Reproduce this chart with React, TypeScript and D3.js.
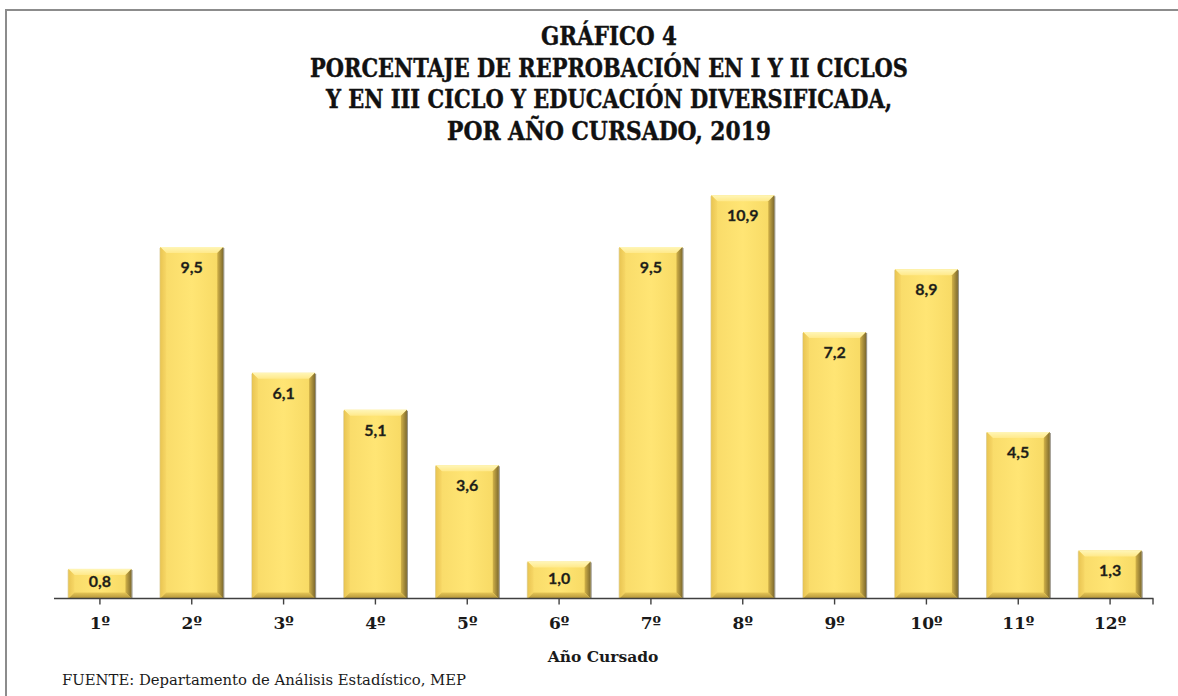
import React from "react";
import * as d3 from "d3";

const categories = ["1º", "2º", "3º", "4º", "5º", "6º", "7º", "8º", "9º", "10º", "11º", "12º"];
const values = [0.8, 9.5, 6.1, 5.1, 3.6, 1.0, 9.5, 10.9, 7.2, 8.9, 4.5, 1.3];
const titleLines = [
  "GRÁFICO 4",
  "PORCENTAJE DE REPROBACIÓN EN I Y II CICLOS",
  "Y EN III CICLO Y EDUCACIÓN DIVERSIFICADA,",
  "POR AÑO CURSADO, 2019",
];
const titleWidths = [136, 598, 566, 324];
const xAxisTitle = "Año Cursado";
const sourceText = "FUENTE: Departamento de Análisis Estadístico, MEP";

const W = 1178;
const H = 696;
const plotLeft = 54;
const plotRight = 1156;
const baseY = 598.5;
const unit = 37;

export default function App() {
  const x = d3.scaleBand<string>().domain(categories).range([plotLeft, plotRight]).paddingInner(0.314).paddingOuter(0.157);
  const y = d3.scaleLinear().domain([0, 12]).range([baseY, baseY - 12 * unit]);
  const fmt = (v: number) => v.toFixed(1).replace(".", ",");
  const serif = "'DejaVu Serif', 'Liberation Serif', serif";
  const serifCond = "'DejaVu Serif Condensed', 'DejaVu Serif', serif";
  const bw = x.bandwidth();
  const b = 6;

  return (
    <svg width={W} height={H} style={{ position: "absolute", left: 0, top: 0, background: "#fff" }}>
      <defs>
        <linearGradient id="face" x1="0" x2="1" y1="0" y2="0">
          <stop offset="0" stopColor="#F8DA68" />
          <stop offset="0.5" stopColor="#FFE574" />
          <stop offset="1" stopColor="#F6D862" />
        </linearGradient>
        <linearGradient id="rightBevel" x1="0" x2="1" y1="0" y2="0">
          <stop offset="0" stopColor="#D2B248" />
          <stop offset="1" stopColor="#7E6A2E" />
        </linearGradient>
        <linearGradient id="leftBevel" x1="0" x2="1" y1="0" y2="0">
          <stop offset="0" stopColor="#E9C552" />
          <stop offset="1" stopColor="#F7D766" />
        </linearGradient>
        <linearGradient id="topBevel" x1="0" x2="0" y1="0" y2="1">
          <stop offset="0" stopColor="#FFF6B8" />
          <stop offset="1" stopColor="#FFE98A" />
        </linearGradient>
        <linearGradient id="bottomBevel" x1="0" x2="0" y1="0" y2="1">
          <stop offset="0" stopColor="#E6C656" />
          <stop offset="1" stopColor="#B2943A" />
        </linearGradient>
      </defs>

      {/* chart border */}
      <line x1={6} x2={W} y1={10} y2={10} stroke="#8c8c8c" strokeWidth={2} />
      <line x1={6} x2={6} y1={9} y2={H} stroke="#8c8c8c" strokeWidth={2} />

      {/* title */}
      {titleLines.map((t, i) => (
        <text
          key={t}
          x={609}
          y={45 + i * 31.5}
          textAnchor="middle"
          fontFamily={serifCond}
          fontWeight="bold"
          fontSize={26}
          fill="#111"
          stroke="#111"
          strokeWidth={0.4}
          textLength={titleWidths[i]}
          lengthAdjust="spacingAndGlyphs"
        >
          {t}
        </text>
      ))}

      {/* bars */}
      {values.map((v, i) => {
        const x0 = x(categories[i]) as number;
        const x1 = x0 + bw;
        const y0 = y(v);
        const y1 = baseY;
        const h = y1 - y0;
        const labelY = y0 + Math.min(20, h / 2 - 2);
        return (
          <g key={categories[i]}>
            <rect x={x0} y={y0} width={bw} height={h} fill="url(#face)" />
            <polygon points={`${x0},${y0} ${x1},${y0} ${x1 - b},${y0 + b} ${x0 + b},${y0 + b}`} fill="url(#topBevel)" />
            <polygon points={`${x0},${y0} ${x0 + b},${y0 + b} ${x0 + b},${y1 - b} ${x0},${y1}`} fill="url(#leftBevel)" />
            <polygon points={`${x1},${y0} ${x1},${y1} ${x1 - b},${y1 - b} ${x1 - b},${y0 + b}`} fill="url(#rightBevel)" />
            <polygon points={`${x0},${y1} ${x0 + b},${y1 - b} ${x1 - b},${y1 - b} ${x1},${y1}`} fill="url(#bottomBevel)" />
            <line x1={x1 + 0.5} x2={x1 + 0.5} y1={y0 + 1} y2={y1} stroke="#6f6a5a" strokeWidth={1.2} opacity={0.7} />
            <line x1={x0 - 0.3} x2={x0 - 0.3} y1={y0 + 1} y2={y1} stroke="#c9b46a" strokeWidth={0.8} opacity={0.6} />
            <text
              x={x0 + bw / 2}
              y={labelY}
              dy="0.36em"
              textAnchor="middle"
              fontFamily="Lato, 'Liberation Sans', sans-serif"
              fontWeight="bold"
              fontSize={16}
              fill="#1a1a1a"
              stroke="#3a3a20"
              strokeWidth={0.3}
            >
              {fmt(v)}
            </text>
          </g>
        );
      })}

      {/* x axis */}
      <line x1={plotLeft} x2={plotRight - 2.5} y1={baseY} y2={baseY} stroke="#404040" strokeWidth={1.6} />
      {categories.map((c) => {
        const cx = (x(c) as number) + bw / 2;
        return <line key={"t" + c} x1={cx} x2={cx} y1={baseY} y2={baseY + 6} stroke="#404040" strokeWidth={1.4} />;
      })}
      <line x1={plotRight - 3} x2={plotRight - 3} y1={baseY} y2={baseY + 6} stroke="#404040" strokeWidth={1.4} />
      {categories.map((c) => (
        <text
          key={"l" + c}
          x={(x(c) as number) + bw / 2}
          y={629}
          textAnchor="middle"
          fontFamily={serif}
          fontWeight="bold"
          fontSize={17}
          fill="#1a1a1a"
        >
          {c}
        </text>
      ))}

      <text x={603} y={662} textAnchor="middle" fontFamily={serif} fontWeight="bold" fontSize={15.5} fill="#1a1a1a">
        {xAxisTitle}
      </text>

      <text x={62} y={685} fontFamily={serifCond} fontSize={14.5} fill="#1a1a1a" textLength={404} lengthAdjust="spacingAndGlyphs">
        {sourceText}
      </text>
    </svg>
  );
}
